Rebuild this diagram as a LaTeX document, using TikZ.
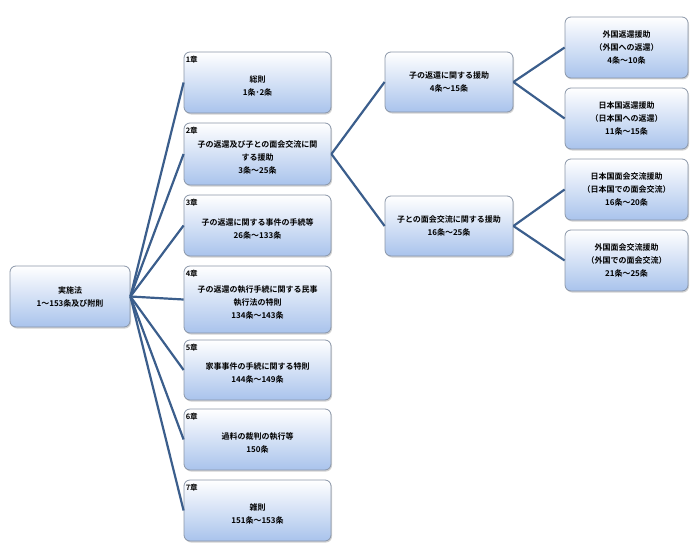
\documentclass[tikz,border=0pt]{standalone}
\usepackage{fontspec}
\setmainfont{Noto Sans CJK JP}[BoldFont={* Bold}]
\usetikzlibrary{shadows}
\definecolor{lnc}{HTML}{3B5E8C}
\definecolor{boxbot}{HTML}{A9C3EC}
\definecolor{boxbd}{HTML}{8A96A8}
\tikzset{
 bx/.style={draw=boxbd, line width=0.8pt, rounded corners=6pt, top color=white, bottom color=boxbot,
  drop shadow={shadow xshift=1pt, shadow yshift=-1.5pt, opacity=0.35},
  align=center, inner sep=2pt, font=\bfseries\fontsize{8}{13}\selectfont},
 chl/.style={anchor=north west, inner sep=2pt, font=\bfseries\fontsize{7.5}{9}\selectfont, yshift=-2pt},
 ln/.style={draw=lnc, line width=2.2pt}
}
\begin{document}
\begin{tikzpicture}[x=1pt,y=-1pt]
\useasboundingbox (0,0) rectangle (700,559);
\newcommand\bxat[6]{\node[bx, minimum width=#4-#2, minimum height=#5-#3] (#1) at ({(#2+#4)/2},{(#3+#5)/2}) {#6};}
\bxat{root}{10}{266}{130}{327}{実施法\\1～153条及び附則}
\bxat{c1}{184}{52}{331}{113}{\\総則\\1条･2条}
\bxat{c2}{184}{123}{331}{185}{\\子の返還及び子との面会交流に関\\する援助\\3条～25条}
\bxat{c3}{184}{195}{331}{256}{\\子の返還に関する事件の手続等\\26条～133条}
\bxat{c4}{184}{266}{331}{333}{\\子の返還の執行手続に関する民事\\執行法の特則\\134条～143条}
\bxat{c5}{184}{340}{331}{400}{\\家事事件の手続に関する特則\\144条～149条}
\bxat{c6}{184}{409}{331}{470}{\\過料の裁判の執行等\\150条}
\bxat{c7}{184}{480}{331}{541}{\\雑則\\151条～153条}
\foreach \n/\t in {c1/1章,c2/2章,c3/3章,c4/4章,c5/5章,c6/6章,c7/7章}
  \node[chl] (\n l) at (\n.north west) {\t};
\bxat{a}{385}{52}{513}{112}{子の返還に関する援助\\4条～15条}
\bxat{b}{385}{196}{513}{256}{子との面会交流に関する援助\\16条～25条}
\bxat{a1}{565}{17}{688}{78}{外国返還援助\\（外国への返還）\\4条～10条}
\bxat{a2}{565}{88}{688}{149}{日本国返還援助\\（日本国への返還）\\11条～15条}
\bxat{b1}{565}{159}{688}{220}{日本国面会交流援助\\（日本国での面会交流）\\16条～20条}
\bxat{b2}{565}{230}{688}{291}{外国面会交流援助\\（外国での面会交流）\\21条～25条}
\foreach \c in {c1,c2,c3,c4,c5,c6,c7} \draw[ln] (root.east) -- (\c.west);
\draw[ln] (c2.east) -- (a.west);
\draw[ln] (c2.east) -- (b.west);
\draw[ln] (a.east) -- (a1.west);
\draw[ln] (a.east) -- (a2.west);
\draw[ln] (b.east) -- (b1.west);
\draw[ln] (b.east) -- (b2.west);
\end{tikzpicture}
\end{document}
